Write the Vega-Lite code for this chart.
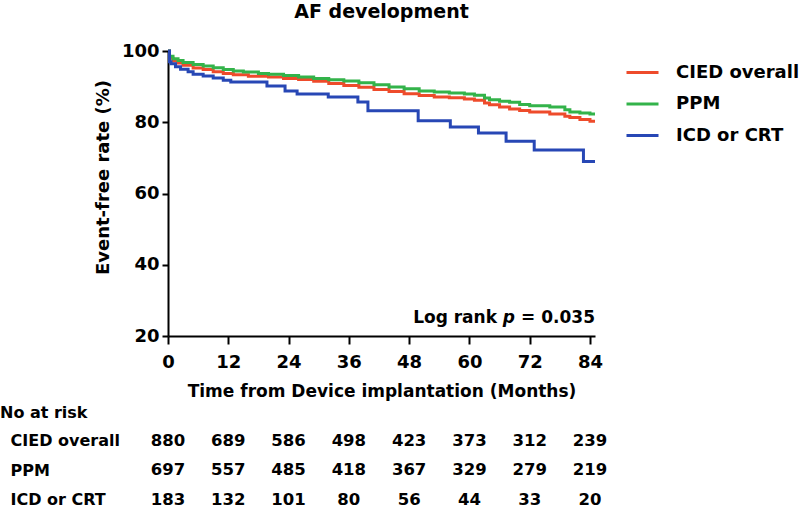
{
  "$schema": "https://vega.github.io/schema/vega-lite/v6.json",
  "background": "white",
  "padding": {"left": 0, "top": 3, "right": 0, "bottom": 0},
  "bounds": "flush",
  "spacing": 90,
  "config": {
    "font": "DejaVu Sans",
    "view": {"stroke": null},
    "axis": {
      "labelFont": "DejaVu Sans", "labelFontWeight": "bold", "labelColor": "black",
      "titleFont": "DejaVu Sans", "titleFontWeight": "bold", "titleColor": "black",
      "domainColor": "black", "domainWidth": 2, "tickColor": "black", "tickWidth": 2,
      "grid": false, "labelFlush": false, "labelOverlap": false
    },
    "title": {"font": "DejaVu Sans", "fontWeight": "bold", "color": "black"}
  },
  "vconcat": [
    {
      "width": 427,
      "height": 285,
      "title": {"text": "AF development", "fontSize": 19, "anchor": "middle", "offset": 20},
      "layer": [
        {
          "data": {
            "values": [
              {"group": "CIED overall", "t": 0, "v": 100},
              {"group": "CIED overall", "t": 0.3, "v": 98.0},
              {"group": "CIED overall", "t": 1, "v": 97.2},
              {"group": "CIED overall", "t": 2, "v": 96.6},
              {"group": "CIED overall", "t": 3, "v": 96.0},
              {"group": "CIED overall", "t": 5, "v": 95.2},
              {"group": "CIED overall", "t": 7, "v": 94.8},
              {"group": "CIED overall", "t": 9, "v": 94.2},
              {"group": "CIED overall", "t": 11, "v": 93.7},
              {"group": "CIED overall", "t": 13, "v": 93.3},
              {"group": "CIED overall", "t": 16, "v": 92.9},
              {"group": "CIED overall", "t": 20, "v": 92.7},
              {"group": "CIED overall", "t": 23, "v": 92.3},
              {"group": "CIED overall", "t": 26, "v": 92.0},
              {"group": "CIED overall", "t": 29, "v": 91.5},
              {"group": "CIED overall", "t": 32, "v": 90.9},
              {"group": "CIED overall", "t": 35, "v": 90.3},
              {"group": "CIED overall", "t": 38, "v": 89.8},
              {"group": "CIED overall", "t": 41, "v": 89.2},
              {"group": "CIED overall", "t": 44, "v": 88.6},
              {"group": "CIED overall", "t": 47, "v": 88.0},
              {"group": "CIED overall", "t": 50, "v": 87.5},
              {"group": "CIED overall", "t": 53, "v": 87.1},
              {"group": "CIED overall", "t": 56, "v": 86.9},
              {"group": "CIED overall", "t": 59, "v": 86.5},
              {"group": "CIED overall", "t": 61, "v": 86.2},
              {"group": "CIED overall", "t": 63, "v": 85.4},
              {"group": "CIED overall", "t": 64, "v": 84.9},
              {"group": "CIED overall", "t": 66, "v": 84.3},
              {"group": "CIED overall", "t": 68, "v": 83.7},
              {"group": "CIED overall", "t": 70, "v": 83.3},
              {"group": "CIED overall", "t": 72, "v": 82.9},
              {"group": "CIED overall", "t": 76, "v": 82.3},
              {"group": "CIED overall", "t": 79, "v": 81.7},
              {"group": "CIED overall", "t": 80, "v": 81.3},
              {"group": "CIED overall", "t": 82, "v": 80.8},
              {"group": "CIED overall", "t": 84, "v": 80.3},
              {"group": "CIED overall", "t": 85, "v": 80.3},
              {"group": "PPM", "t": 0, "v": 100},
              {"group": "PPM", "t": 0.3, "v": 98.5},
              {"group": "PPM", "t": 1, "v": 97.8},
              {"group": "PPM", "t": 2, "v": 97.3},
              {"group": "PPM", "t": 3, "v": 96.8},
              {"group": "PPM", "t": 5, "v": 96.2},
              {"group": "PPM", "t": 7, "v": 95.8},
              {"group": "PPM", "t": 9, "v": 95.3},
              {"group": "PPM", "t": 11, "v": 94.8},
              {"group": "PPM", "t": 13, "v": 94.4},
              {"group": "PPM", "t": 15, "v": 94.1},
              {"group": "PPM", "t": 18, "v": 93.7},
              {"group": "PPM", "t": 20, "v": 93.5},
              {"group": "PPM", "t": 23, "v": 93.1},
              {"group": "PPM", "t": 26, "v": 92.7},
              {"group": "PPM", "t": 29, "v": 92.3},
              {"group": "PPM", "t": 32, "v": 91.9},
              {"group": "PPM", "t": 35, "v": 91.6},
              {"group": "PPM", "t": 38, "v": 91.1},
              {"group": "PPM", "t": 41, "v": 90.5},
              {"group": "PPM", "t": 44, "v": 89.9},
              {"group": "PPM", "t": 47, "v": 89.4},
              {"group": "PPM", "t": 50, "v": 88.8},
              {"group": "PPM", "t": 53, "v": 88.5},
              {"group": "PPM", "t": 56, "v": 88.2},
              {"group": "PPM", "t": 59, "v": 87.9},
              {"group": "PPM", "t": 61, "v": 87.6},
              {"group": "PPM", "t": 63, "v": 86.8},
              {"group": "PPM", "t": 64, "v": 86.3},
              {"group": "PPM", "t": 66, "v": 85.9},
              {"group": "PPM", "t": 68, "v": 85.6},
              {"group": "PPM", "t": 70, "v": 85.0},
              {"group": "PPM", "t": 72, "v": 84.6},
              {"group": "PPM", "t": 76, "v": 84.3},
              {"group": "PPM", "t": 79, "v": 83.5},
              {"group": "PPM", "t": 80, "v": 82.9},
              {"group": "PPM", "t": 82, "v": 82.6},
              {"group": "PPM", "t": 84, "v": 82.3},
              {"group": "PPM", "t": 85, "v": 82.3},
              {"group": "ICD or CRT", "t": 0, "v": 100},
              {"group": "ICD or CRT", "t": 0.3, "v": 97.0},
              {"group": "ICD or CRT", "t": 0.6, "v": 96.4},
              {"group": "ICD or CRT", "t": 1.5, "v": 95.6},
              {"group": "ICD or CRT", "t": 2.5, "v": 94.9},
              {"group": "ICD or CRT", "t": 4, "v": 94.2},
              {"group": "ICD or CRT", "t": 5, "v": 93.5},
              {"group": "ICD or CRT", "t": 7, "v": 93.0},
              {"group": "ICD or CRT", "t": 9, "v": 92.4},
              {"group": "ICD or CRT", "t": 11, "v": 91.8},
              {"group": "ICD or CRT", "t": 12.5, "v": 91.3},
              {"group": "ICD or CRT", "t": 19.7, "v": 90.2},
              {"group": "ICD or CRT", "t": 23.3, "v": 88.8},
              {"group": "ICD or CRT", "t": 25.7, "v": 87.9},
              {"group": "ICD or CRT", "t": 31.9, "v": 87.1},
              {"group": "ICD or CRT", "t": 37.8, "v": 85.7},
              {"group": "ICD or CRT", "t": 39.8, "v": 83.2},
              {"group": "ICD or CRT", "t": 49.8, "v": 80.4},
              {"group": "ICD or CRT", "t": 56.2, "v": 78.7},
              {"group": "ICD or CRT", "t": 61.8, "v": 77.0},
              {"group": "ICD or CRT", "t": 67.3, "v": 74.7},
              {"group": "ICD or CRT", "t": 72.9, "v": 72.2},
              {"group": "ICD or CRT", "t": 82.7, "v": 69.0},
              {"group": "ICD or CRT", "t": 85, "v": 69.0}
            ]
          },
          "mark": {"type": "line", "interpolate": "step-after", "strokeWidth": 3},
          "encoding": {
            "x": {
              "field": "t", "type": "quantitative",
              "scale": {"domain": [0, 85], "nice": false, "zero": false},
              "axis": {
                "values": [0, 12, 24, 36, 48, 60, 72, 84],
                "tickSize": 8, "labelFontSize": 18, "labelPadding": 9,
                "title": "Time from Device implantation (Months)",
                "titleFontSize": 17, "titlePadding": 12
              }
            },
            "y": {
              "field": "v", "type": "quantitative",
              "scale": {"domain": [20, 100], "nice": false, "zero": false},
              "axis": {
                "values": [20, 40, 60, 80, 100],
                "tickSize": 6, "labelFontSize": 18, "labelPadding": 3,
                "title": "Event-free rate (%)",
                "titleFontSize": 18, "titlePadding": 9, "titleY": 126
              }
            },
            "color": {
              "field": "group", "type": "nominal",
              "scale": {"domain": ["CIED overall", "PPM", "ICD or CRT"], "range": ["#ee4b2b", "#33b34a", "#2747b5"]},
              "legend": {
                "title": null, "orient": "none", "legendX": 457, "legendY": 4,
                "symbolType": "stroke", "symbolSize": 1024, "symbolStrokeWidth": 3,
                "labelFont": "DejaVu Sans", "labelFontWeight": "bold", "labelFontSize": 18,
                "labelColor": "black", "labelOffset": 16, "rowPadding": 4.5
              }
            }
          }
        },
        {
          "data": {"values": [{"part": "= 0.035", "t": 85, "v": 23.6}]},
          "mark": {"type": "text", "align": "right", "baseline": "alphabetic", "fontSize": 17, "fontWeight": "bold", "font": "DejaVu Sans", "color": "black"},
          "encoding": {"x": {"field": "t", "type": "quantitative"}, "y": {"field": "v", "type": "quantitative"}, "text": {"field": "part"}}
        },
        {
          "data": {"values": [{"part": "p", "t": 85, "v": 23.6}]},
          "mark": {"type": "text", "align": "right", "baseline": "alphabetic", "fontSize": 17, "fontWeight": "bold", "fontStyle": "italic", "font": "DejaVu Sans", "color": "black", "dx": -80},
          "encoding": {"x": {"field": "t", "type": "quantitative"}, "y": {"field": "v", "type": "quantitative"}, "text": {"field": "part"}}
        },
        {
          "data": {"values": [{"part": "Log rank", "t": 85, "v": 23.6}]},
          "mark": {"type": "text", "align": "right", "baseline": "alphabetic", "fontSize": 17, "fontWeight": "bold", "font": "DejaVu Sans", "color": "black", "dx": -98},
          "encoding": {"x": {"field": "t", "type": "quantitative"}, "y": {"field": "v", "type": "quantitative"}, "text": {"field": "part"}}
        }
      ]
    },
    {
      "width": 427,
      "height": 88.5,
      "title": {"text": "No at risk", "anchor": "start", "frame": "group", "dx": -168, "fontSize": 16, "offset": 5},
      "data": {
        "values": [
          {"group": "CIED overall", "t": 0, "n": 880},
          {"group": "CIED overall", "t": 12, "n": 689},
          {"group": "CIED overall", "t": 24, "n": 586},
          {"group": "CIED overall", "t": 36, "n": 498},
          {"group": "CIED overall", "t": 48, "n": 423},
          {"group": "CIED overall", "t": 60, "n": 373},
          {"group": "CIED overall", "t": 72, "n": 312},
          {"group": "CIED overall", "t": 84, "n": 239},
          {"group": "PPM", "t": 0, "n": 697},
          {"group": "PPM", "t": 12, "n": 557},
          {"group": "PPM", "t": 24, "n": 485},
          {"group": "PPM", "t": 36, "n": 418},
          {"group": "PPM", "t": 48, "n": 367},
          {"group": "PPM", "t": 60, "n": 329},
          {"group": "PPM", "t": 72, "n": 279},
          {"group": "PPM", "t": 84, "n": 219},
          {"group": "ICD or CRT", "t": 0, "n": 183},
          {"group": "ICD or CRT", "t": 12, "n": 132},
          {"group": "ICD or CRT", "t": 24, "n": 101},
          {"group": "ICD or CRT", "t": 36, "n": 80},
          {"group": "ICD or CRT", "t": 48, "n": 56},
          {"group": "ICD or CRT", "t": 60, "n": 44},
          {"group": "ICD or CRT", "t": 72, "n": 33},
          {"group": "ICD or CRT", "t": 84, "n": 20}
        ]
      },
      "mark": {"type": "text", "align": "center", "baseline": "middle", "fontSize": 16.5, "fontWeight": "bold", "font": "DejaVu Sans", "color": "black"},
      "encoding": {
        "x": {"field": "t", "type": "quantitative", "scale": {"domain": [0, 85], "nice": false, "zero": false}, "axis": null},
        "y": {
          "field": "group", "type": "nominal",
          "sort": ["CIED overall", "PPM", "ICD or CRT"],
          "scale": {"type": "point", "padding": 0.5},
          "axis": {"title": null, "domain": false, "ticks": false, "tickSize": 0, "labelAlign": "left", "labelPadding": 158, "labelFontSize": 16}
        },
        "text": {"field": "n", "type": "quantitative"}
      }
    }
  ]
}
